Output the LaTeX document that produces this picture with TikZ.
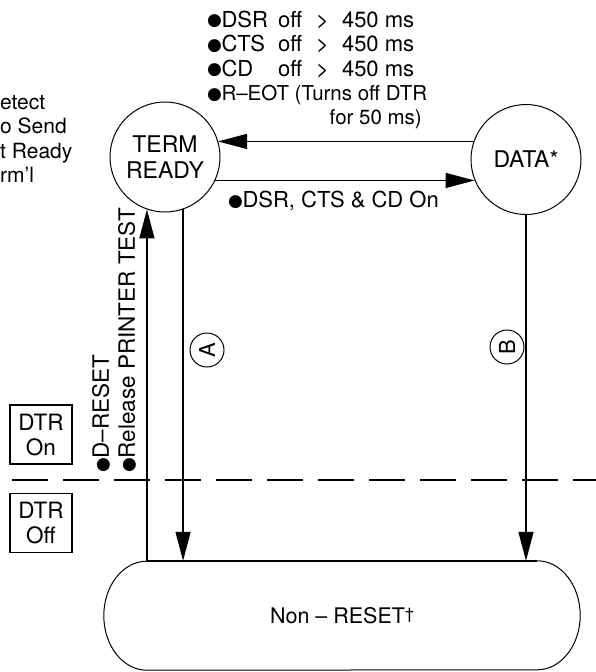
\documentclass[tikz,border=0pt]{standalone}
\usepackage{fontspec}
\setmainfont{TeX Gyre Heros}
\newfontfamily\symfont{DejaVu Sans}
\usetikzlibrary{arrows.meta}
\newcommand{\bul}{\raisebox{1.2pt}{\symfont\fontsize{17}{17}\selectfont ●}\hspace{-0.5pt}}
\begin{document}
\begin{tikzpicture}[x=1pt,y=1pt,
  font=\fontsize{21}{24.5}\selectfont,
  state/.style={circle,draw,line width=1pt,minimum size=110pt,inner sep=0pt,
    font=\fontsize{23}{25.5}\selectfont,align=center},
  conn/.style={line width=1.4pt},
  arr/.style={conn,-{Triangle[length=29pt,width=15pt]}},
  tag/.style={circle,draw,line width=1pt,minimum size=34pt,inner sep=0pt,
    rotate=90,font=\fontsize{22}{22}\selectfont},
  dtrbox/.style={draw,line width=1.1pt,minimum width=62pt,minimum height=59pt,
    inner sep=0pt,align=center,font=\fontsize{22.5}{25}\selectfont},
  txt/.style={inner sep=0pt},
  cond/.style={inner sep=0pt,anchor=base west,font=\fontsize{22}{24.5}\selectfont},
  condn/.style={inner sep=0pt,font=\fontsize{20.5}{24.5}\selectfont}]
\useasboundingbox (0,0) rectangle (596,-672);

% states
\node[state] (term) at (165,-157) {TERM\\READY};
\node[state] (data) at (526,-159.5) {DATA*};
\node[minimum width=390pt,minimum height=109pt,inner sep=0pt,font=\fontsize{21.5}{24}\selectfont] (nr) at (342,-615.5)
  {Non -- RESET\raisebox{4pt}{\fontsize{16}{16}\selectfont\textdagger}};
\draw[line width=1pt] (nr.north east) arc[start angle=90,end angle=-90,x radius=43pt,y radius=54.5pt]
  -- (nr.south west) arc[start angle=270,end angle=90,x radius=43pt,y radius=54.5pt];
\draw[line width=1.7pt] (nr.north west) -- (nr.north east);

% top conditions
\node[cond] (c1) at (207,-27) {\makebox[71pt][l]{\bul DSR}off\hspace{14pt}>\hspace{13pt}450 ms};
\node[cond] (c2) at (207,-51.5) {\makebox[71pt][l]{\bul CTS}off\hspace{14pt}>\hspace{13pt}450 ms};
\node[cond] (c3) at (207,-76) {\makebox[71pt][l]{\bul CD}off\hspace{14pt}>\hspace{13pt}450 ms};
\node[condn,anchor=base west] (c4) at (207,-100.5) {\bul R--EOT (Turns off DTR};
\node[condn,anchor=base east] (for50) at (422,-124.5) {for 50 ms)};
\node[txt,anchor=west,font=\fontsize{22}{24.5}\selectfont] (onc) at (228,-201) {\bul DSR, CTS \& CD On};

% left partial text
\node[txt,anchor=north west,align=left] (lt) at (0,-95) {etect\\o Send\\t Ready\\rm’l};

% connectors
\draw[arr] (data.161) -- (data.161 -| term.17);
\draw[arr] (term.-25) -- (term.-25 -| data.202);
\draw[arr] (term.-71) -- (term.-71 |- nr.north);
\draw[arr] (data.south) -- (data.south |- nr.north);
\draw[arr] (term.-109 |- nr.north) -- (term.-109);

% tags
\node[tag] (ta) at (207,-350) {A};
\node[tag] (tb) at (507,-347) {B};

% rotated labels
\node[txt,rotate=90,anchor=west,font=\fontsize{22.5}{25}\selectfont] (dres) at (101,-473) {\bul D--RESET};
\node[txt,rotate=90,anchor=west,font=\fontsize{22.5}{25}\selectfont] (rel) at (127,-473) {\bul Release PRINTER TEST};

% DTR boxes and dashed line
\node[dtrbox] (don) at (41,-434.5) {DTR\\On};
\node[dtrbox] (doff) at (41,-523) {DTR\\Off};
\coordinate (dl) at (12,-480);
\coordinate (dr) at (596,-480);
\draw[line width=2.2pt,dash pattern=on 36pt off 15pt] (dl) -- (dr);
\end{tikzpicture}
\end{document}
